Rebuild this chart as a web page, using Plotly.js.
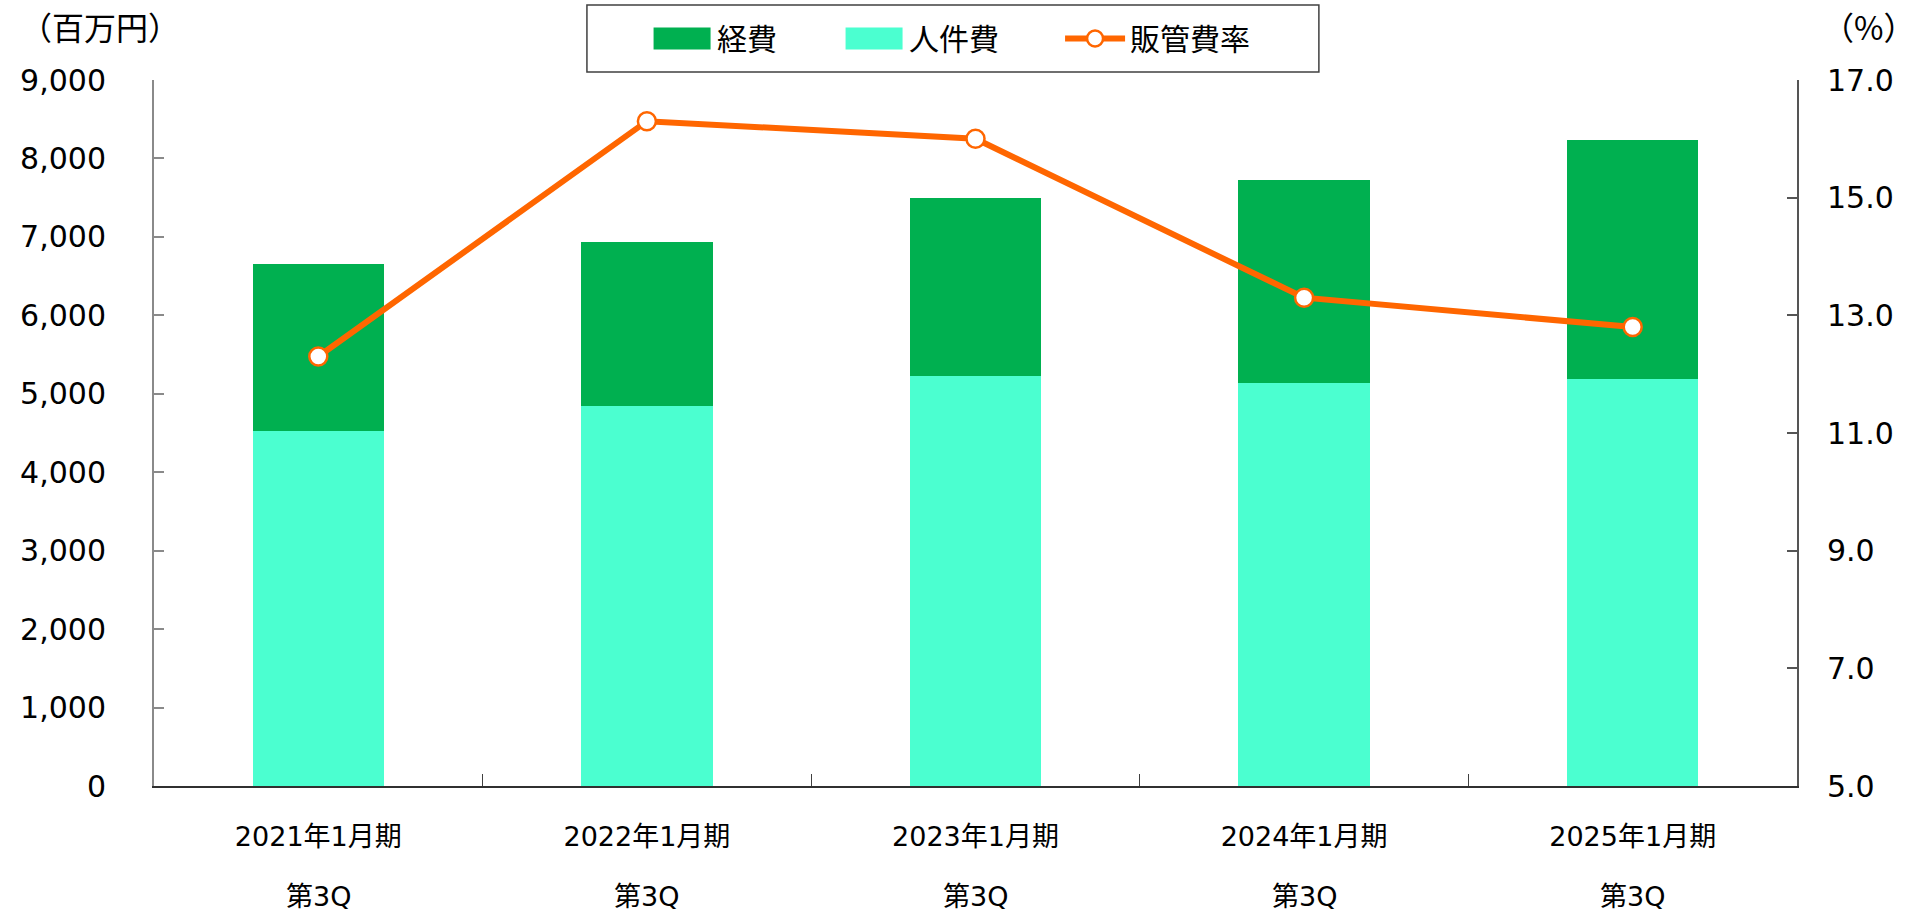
<!DOCTYPE html>
<html>
<head>
<meta charset="utf-8">
<script src="https://cdn.plot.ly/plotly-3.0.1.min.js"></script>
<style>
html,body{margin:0;padding:0;background:#fff;}
#chart{width:1926px;height:914px;}
</style>
</head>
<body>
<div id="chart"></div>
<script>
// ---- data ----
const categories = ['2021年1月期', '2022年1月期', '2023年1月期', '2024年1月期', '2025年1月期'];
const quarterLabels = ['第3Q', '第3Q', '第3Q', '第3Q', '第3Q'];
const personnelCost = [4530, 4840, 5230, 5140, 5190];   // 人件費
const expenses = [2130, 2090, 2270, 2590, 3050];        // 経費
const sgaRatio = [12.3, 16.3, 16.0, 13.3, 12.8];        // 販管費率 (%)
const leftTitle = '（百万円）';
const rightTitle = '（%）';

const baseFont = 'DejaVu Sans, "Noto Sans CJK JP", sans-serif';
const cjkFont = '"Noto Sans CJK JP", DejaVu Sans, sans-serif';
const colExp = '#00B050', colPers = '#4BFFD0', colRatio = '#FF6600';

const traces = [
  {
    type: 'bar', name: '人件費', x: categories, y: personnelCost,
    marker: {color: colPers, line: {width: 0}},
    legendrank: 2, legendwidth: 146, hoverinfo: 'skip'
  },
  {
    type: 'bar', name: '経費', x: categories, y: expenses,
    marker: {color: colExp, line: {width: 0}},
    legendrank: 1, legendwidth: 117, hoverinfo: 'skip'
  },
  {
    type: 'scatter', mode: 'lines+markers', name: '販管費率', x: categories, y: sgaRatio,
    yaxis: 'y2',
    line: {color: colRatio, width: 6},
    marker: {symbol: 'circle', size: 18, color: '#FFFFFF', line: {color: colRatio, width: 2.5}},
    legendrank: 3, legendwidth: 125, hoverinfo: 'skip'
  }
];

const annotations = categories.map((c, i) => ({
  x: c, xref: 'x', y: -0.1572, yref: 'paper',
  text: quarterLabels[i], showarrow: false,
  xanchor: 'center', yanchor: 'middle',
  font: {size: 27, family: baseFont, color: '#000'}
}));
annotations.push({
  x: -0.0326, xref: 'paper', y: 1.076, yref: 'paper', text: leftTitle,
  showarrow: false, xanchor: 'center', yanchor: 'middle',
  font: {size: 32, family: cjkFont, color: '#000'}
});
annotations.push({
  x: 1.0438, xref: 'paper', y: 1.076, yref: 'paper', text: rightTitle,
  showarrow: false, xanchor: 'center', yanchor: 'middle',
  font: {size: 32, family: cjkFont, color: '#000'}
});

const layout = {
  width: 1926, height: 914,
  margin: {l: 154, r: 129, t: 80, b: 128, autoexpand: false},
  paper_bgcolor: '#fff', plot_bgcolor: '#fff',
  barmode: 'stack', bargap: 0.6,
  font: {family: baseFont, size: 28, color: '#000'},
  showlegend: true,
  xaxis: {
    type: 'category', range: [-0.5, 4.5],
    showline: true, linecolor: '#303030', linewidth: 2,
    ticks: 'inside', tickson: 'boundaries', ticklen: 12, tickcolor: '#404040', tickwidth: 1,
    tickfont: {size: 27}, ticklabelstandoff: 26,
    showgrid: false, zeroline: false
  },
  yaxis: {
    range: [0, 9000], tick0: 0, dtick: 1000, tickformat: ',d',
    showline: true, linecolor: '#8a8a8a', linewidth: 2,
    ticks: 'inside', ticklen: 10, tickcolor: '#8a8a8a', tickwidth: 2,
    tickfont: {size: 30}, ticklabelstandoff: 40,
    showgrid: false, zeroline: false
  },
  yaxis2: {
    overlaying: 'y', side: 'right',
    range: [5, 17], tick0: 5, dtick: 2, tickformat: '.1f',
    showline: true, linecolor: '#555', linewidth: 2,
    ticks: 'inside', ticklen: 10, tickcolor: '#555', tickwidth: 2,
    tickfont: {size: 30}, ticklabelstandoff: 22,
    showgrid: false, zeroline: false
  },
  legend: {
    orientation: 'h', x: 0.3001, xanchor: 'left', y: 1.0588, yanchor: 'middle',
    borderwidth: 0, bgcolor: 'rgba(0,0,0,0)', itemwidth: 60, traceorder: 'normal',
    font: {size: 30, family: cjkFont, color: '#000'}
  },
  shapes: [{
    type: 'rect', xref: 'paper', yref: 'paper',
    x0: 0.2635, x1: 0.709, y0: 1.0113, y1: 1.1062,
    line: {color: '#404040', width: 1.5}, fillcolor: 'rgba(0,0,0,0)'
  }],
  annotations: annotations
};

function enlargeSwatches() {
  // enlarge bar legend swatches to match the reference
  var gd = document.getElementById('chart');
  gd.querySelectorAll('g.legendpoints path').forEach(function (p) {
    var d = p.getAttribute('d') || '';
    if (/^M6,6H-6V-6H6Z$/.test(d.replace(/\s/g, ''))) {
      p.setAttribute('d', 'M28.5,11H-28.5V-11H28.5Z');
    }
  });
}

var gdEl = document.getElementById('chart');
Plotly.newPlot(gdEl, traces, layout, {displayModeBar: false, staticPlot: true}).then(function () {
  enlargeSwatches();
  gdEl.on('plotly_afterplot', enlargeSwatches);
  requestAnimationFrame(enlargeSwatches);
  setTimeout(enlargeSwatches, 50);
  setTimeout(enlargeSwatches, 300);
});
</script>
</body>
</html>
